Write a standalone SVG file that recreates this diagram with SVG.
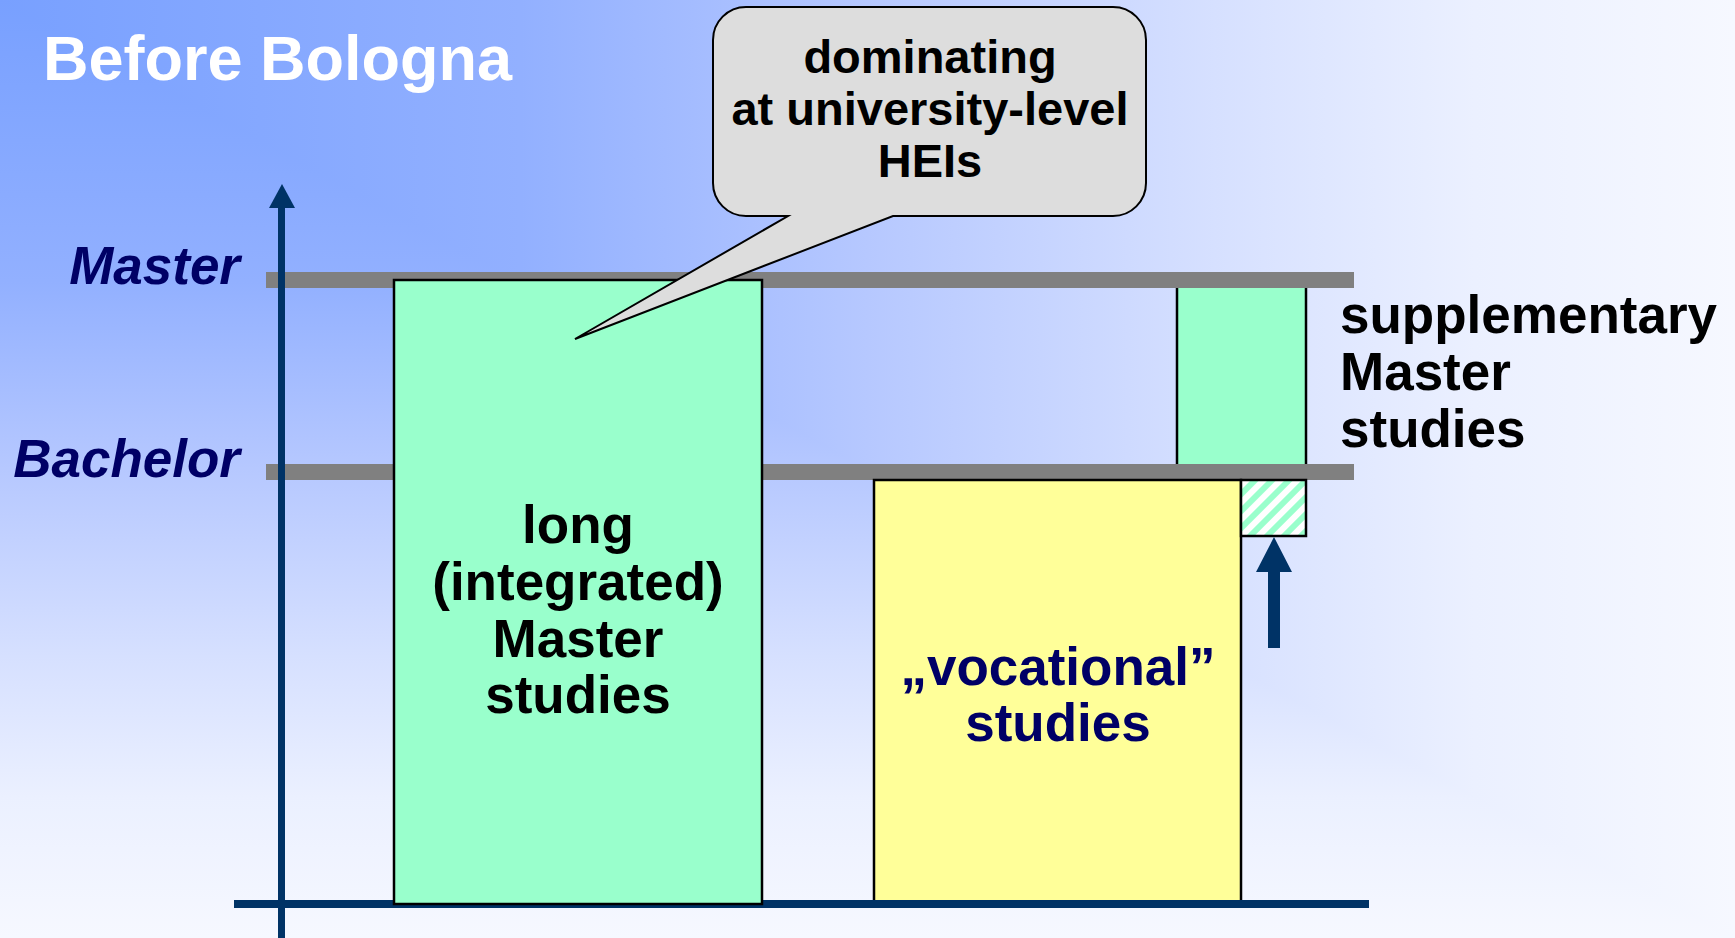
<svg xmlns="http://www.w3.org/2000/svg" width="1735" height="938" viewBox="0 0 1735 938">
<defs>
<linearGradient id="bgH" gradientUnits="userSpaceOnUse" x1="0" y1="0" x2="1735" y2="0">
<stop offset="0" stop-color="#78A0FF"/>
<stop offset="0.3" stop-color="#92B0FF"/>
<stop offset="0.5" stop-color="#B6C8FF"/>
<stop offset="0.7" stop-color="#D6E0FF"/>
<stop offset="0.85" stop-color="#EBF0FF"/>
<stop offset="1" stop-color="#F6F8FF"/>
</linearGradient>
<linearGradient id="bgV" gradientUnits="userSpaceOnUse" x1="0" y1="0" x2="0" y2="938">
<stop offset="0" stop-color="#78A0FF"/>
<stop offset="0.3" stop-color="#92B0FF"/>
<stop offset="0.5" stop-color="#B6C8FF"/>
<stop offset="0.7" stop-color="#D6E0FF"/>
<stop offset="0.85" stop-color="#EBF0FF"/>
<stop offset="1" stop-color="#F6F8FF"/>
</linearGradient>
<pattern id="hatch" width="12" height="12" patternUnits="userSpaceOnUse" patternTransform="rotate(45)">
<rect width="12" height="12" fill="#FFFFFF"/>
<rect width="6" height="12" fill="#99FFCC"/>
</pattern>
</defs>
<style>
.bold{font-family:"Liberation Sans",Arial,sans-serif;font-weight:bold}
.lvl{font-family:"Liberation Sans",Arial,sans-serif;font-weight:bold;font-style:italic;font-size:53px;fill:#000066;text-anchor:end}
.band{fill:#808080}
.box{stroke:#000000;stroke-width:2.5}
.axis{fill:#003366}
</style>
<rect x="0" y="0" width="1735" height="938" fill="url(#bgV)"/>
<polygon points="0,0 1735,0 1735,938" fill="url(#bgH)"/>
<text class="bold" x="43" y="80" font-size="63" fill="#FFFFFF">Before Bologna</text>

<g id="supplementary-master">
<rect class="box" x="1177" y="284" width="129" height="184" fill="#99FFCC"/>
<text class="bold" font-size="53" fill="#000000" x="1340" y="333">supplementary</text>
<text class="bold" font-size="53" fill="#000000" x="1340" y="390">Master</text>
<text class="bold" font-size="53" fill="#000000" x="1340" y="447">studies</text>
</g>

<g id="level-bands">
<rect class="band" x="266" y="272" width="1088" height="16"/>
<rect class="band" x="266" y="464" width="1088" height="16"/>
</g>

<g id="level-labels">
<text class="lvl" x="240" y="284">Master</text>
<text class="lvl" x="240" y="477">Bachelor</text>
</g>

<g id="vocational">
<rect class="box" x="874" y="480" width="367" height="422" fill="#FFFF99"/>
<text class="bold" font-size="53" fill="#000066" text-anchor="middle" x="1058" y="685">„vocational”</text>
<text class="bold" font-size="53" fill="#000066" text-anchor="middle" x="1058" y="741">studies</text>
</g>

<g id="bridge">
<rect class="box" x="1241" y="480" width="65" height="56" fill="url(#hatch)"/>
</g>

<g id="axes" class="axis">
<rect x="234" y="900" width="1135" height="8"/>
<rect x="278" y="206" width="7" height="732"/>
<polygon points="269,208 295,208 282,184"/>
</g>

<g id="long-master">
<rect class="box" x="394" y="280" width="368" height="624" fill="#99FFCC"/>
<text class="bold" font-size="53" fill="#000000" text-anchor="middle" x="578" y="543">long</text>
<text class="bold" font-size="53" fill="#000000" text-anchor="middle" x="578" y="600">(integrated)</text>
<text class="bold" font-size="53" fill="#000000" text-anchor="middle" x="578" y="657">Master</text>
<text class="bold" font-size="53" fill="#000000" text-anchor="middle" x="578" y="713">studies</text>
</g>

<g id="connectors">
<polygon class="axis" points="1274,537 1292,572 1280,572 1280,648 1268,648 1268,572 1256,572"/>
</g>

<g id="callout">
<path d="M746,7 H1113 A33,33 0 0 1 1146,40 V183 A33,33 0 0 1 1113,216 H893 L575,339 L788,216 H746 A33,33 0 0 1 713,183 V40 A33,33 0 0 1 746,7 Z" fill="#DDDDDD" stroke="#000000" stroke-width="2"/>
<text class="bold" font-size="47" fill="#000000" text-anchor="middle" x="930" y="73">dominating</text>
<text class="bold" font-size="47" fill="#000000" text-anchor="middle" x="930" y="125">at university-level</text>
<text class="bold" font-size="47" fill="#000000" text-anchor="middle" x="930" y="177">HEIs</text>
</g>
</svg>
